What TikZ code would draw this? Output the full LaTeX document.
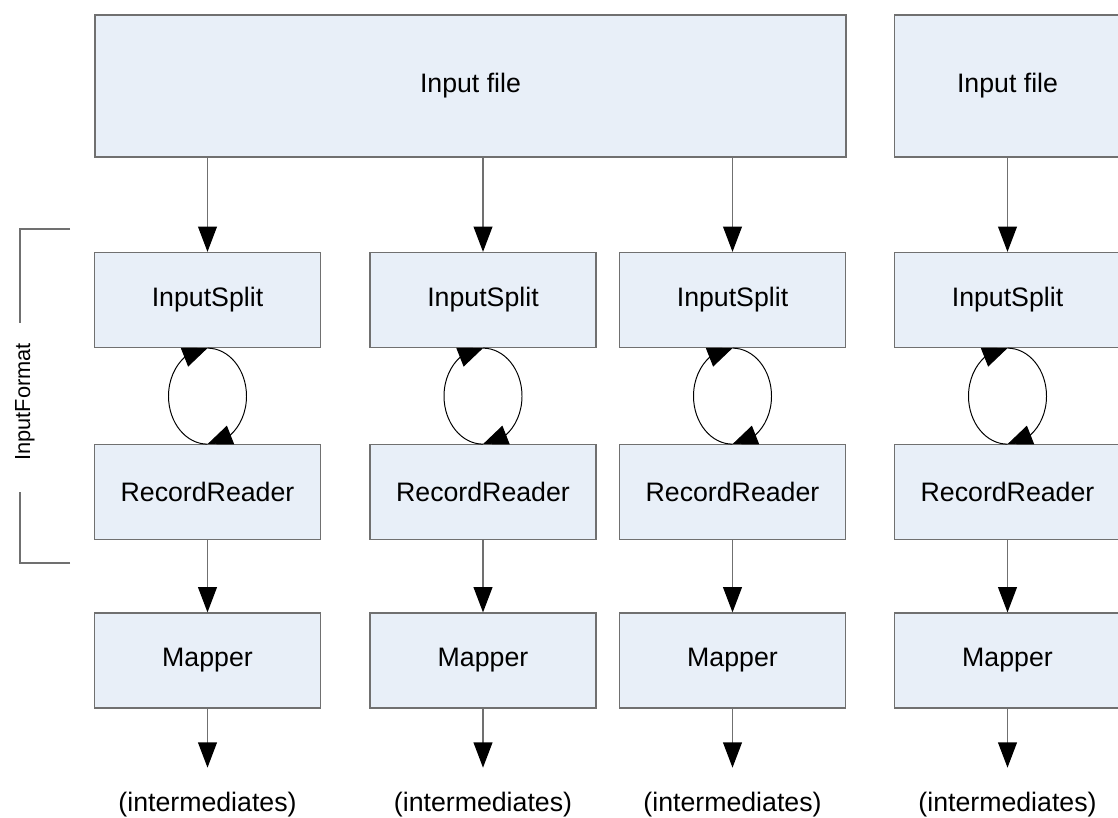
\documentclass[tikz,border=0pt]{standalone}
\usepackage{fontspec}
\setmainfont{Liberation Sans}
\usetikzlibrary{positioning, arrows.meta, bending}
\definecolor{boxfill}{RGB}{232,239,248}
\definecolor{boxline}{RGB}{112,112,112}
\tikzset{
  block/.style={rectangle, draw=boxline, fill=boxfill, line width=0.9pt,
    minimum width=5.65cm, minimum height=2.375cm, inner sep=0pt,
    text centered, font=\fontsize{19}{23}\selectfont},
  wide block/.style={block, minimum width=18.775cm, minimum height=3.55cm},
  outlabel/.style={inner xsep=0pt, inner ysep=0.6cm,
    font=\fontsize{19}{23}\selectfont},
  arrow/.style={draw=boxline, line width=0.9pt,
    -{Triangle[length=0.63cm, width=0.47cm, color=black]}},
  cyclearrow/.style={black, line width=0.7pt,
    -{Triangle[length=0.62cm, width=0.5cm, flex]}},
  bracket/.style={draw=boxline, line width=0.9pt},
}

\begin{document}
\begin{tikzpicture}
  \clip (0,0) rectangle (27.95,-20.45);

  % Input files
  \node[wide block] (file1) at (11.7625,-2.15) {Input file};
  \node[block, minimum height=3.55cm] (file2) at (25.1875,-2.15) {Input file};

  % Splits
  \node[block] (split1) at (5.1875,-7.5)  {InputSplit};
  \node[block] (split2) at (12.075,-7.5)  {InputSplit};
  \node[block] (split3) at (18.3125,-7.5) {InputSplit};
  \node[block] (split4) at (25.1875,-7.5) {InputSplit};

  % Record readers
  \node[block, below=2.4cm of split1] (reader1) {RecordReader};
  \node[block, below=2.4cm of split2] (reader2) {RecordReader};
  \node[block, below=2.4cm of split3] (reader3) {RecordReader};
  \node[block, below=2.4cm of split4] (reader4) {RecordReader};

  % Mappers
  \node[block, below=1.8cm of reader1] (map1) {Mapper};
  \node[block, below=1.8cm of reader2] (map2) {Mapper};
  \node[block, below=1.8cm of reader3] (map3) {Mapper};
  \node[block, below=1.8cm of reader4] (map4) {Mapper};

  % Outputs
  \node[outlabel, below=1.475cm of map1] (out1) {(intermediates)};
  \node[outlabel, below=1.475cm of map2] (out2) {(intermediates)};
  \node[outlabel, below=1.475cm of map3] (out3) {(intermediates)};
  \node[outlabel, below=1.475cm of map4] (out4) {(intermediates)};

  % Arrows
  \draw[arrow] (file1.south -| split1) -- (split1);
  \draw[arrow] (file1.south -| split2) -- (split2);
  \draw[arrow] (file1.south -| split3) -- (split3);
  \draw[arrow] (file2) -- (split4);
  \draw[arrow] (reader1) -- (map1);
  \draw[arrow] (reader2) -- (map2);
  \draw[arrow] (reader3) -- (map3);
  \draw[arrow] (reader4) -- (map4);
  \draw[arrow] (map1) -- (out1);
  \draw[arrow] (map2) -- (out2);
  \draw[arrow] (map3) -- (out3);
  \draw[arrow] (map4) -- (out4);

  % Split <-> reader cycles
  \draw[cyclearrow] (reader1.north) arc[start angle=-90, end angle=-270, x radius=0.975cm, y radius=1.2cm];
  \draw[cyclearrow] (split1.south) arc[start angle=90, end angle=-90, x radius=0.975cm, y radius=1.2cm];
  \draw[cyclearrow] (reader2.north) arc[start angle=-90, end angle=-270, x radius=0.975cm, y radius=1.2cm];
  \draw[cyclearrow] (split2.south) arc[start angle=90, end angle=-90, x radius=0.975cm, y radius=1.2cm];
  \draw[cyclearrow] (reader3.north) arc[start angle=-90, end angle=-270, x radius=0.975cm, y radius=1.2cm];
  \draw[cyclearrow] (split3.south) arc[start angle=90, end angle=-90, x radius=0.975cm, y radius=1.2cm];
  \draw[cyclearrow] (reader4.north) arc[start angle=-90, end angle=-270, x radius=0.975cm, y radius=1.2cm];
  \draw[cyclearrow] (split4.south) arc[start angle=90, end angle=-90, x radius=0.975cm, y radius=1.2cm];

  % InputFormat bracket
  \node[rotate=90, font=\fontsize{15.5}{18}\selectfont] (fmt) at (0.625,-10.05) {InputFormat};
  \coordinate (fmttop) at (1.75,-5.725);
  \coordinate (fmtbot) at (1.75,-14.075);
  \coordinate (gaptop) at (0.5,-8.075);
  \coordinate (gapbot) at (0.5,-12.3);
  \draw[bracket] (fmttop) -| (gaptop);
  \draw[bracket] (fmtbot) -| (gapbot);

\end{tikzpicture}
\end{document}
